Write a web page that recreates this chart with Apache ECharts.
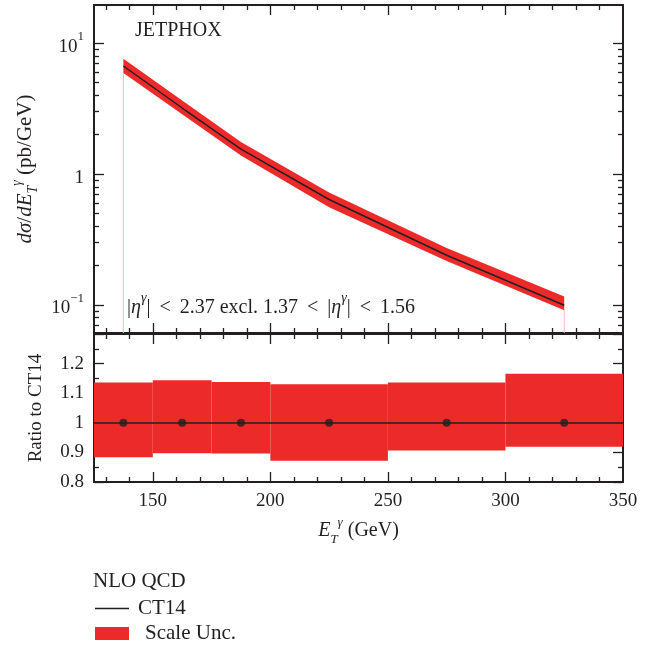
<!DOCTYPE html>
<html><head><meta charset="utf-8">
<script src="https://cdn.jsdelivr.net/npm/echarts@6/dist/echarts.min.js"></script>
<style>html,body{margin:0;padding:0;background:#fff}#c{width:664px;height:648px}</style>
</head><body><div id="c"></div>
<script>
// ---- data ----
const etCenters = [137.5, 162.5, 187.5, 225, 275, 325];
const xsecCentral = [6.7, 3.2, 1.55, 0.64, 0.24, 0.0995];
const xsecUpper = [7.62, 3.66, 1.76, 0.723, 0.273, 0.116];
const xsecLower = [5.92, 2.87, 1.39, 0.559, 0.217, 0.0912];
const binLow = [125, 150, 175, 200, 250, 300];
const binHigh = [150, 175, 200, 250, 300, 350];
const ratioUpper = [1.136, 1.144, 1.138, 1.130, 1.136, 1.166];
const ratioLower = [0.884, 0.897, 0.896, 0.872, 0.906, 0.919];
const ratioCentral = [1, 1, 1, 1, 1, 1];
const xTickLabels = [150, 200, 250, 300, 350];
const xMajorTicks = [150, 200, 250, 300];
const xMinorTicks = [130, 140, 160, 170, 180, 190, 210, 220, 230, 240, 260, 270, 280, 290, 310, 320, 330, 340];
const yLogMajor = [0.1, 1, 10];
const yLogMinor = [0.07, 0.08, 0.09, 0.2, 0.3, 0.4, 0.5, 0.6, 0.7, 0.8, 0.9, 2, 3, 4, 5, 6, 7, 8, 9];
const X_MIN = 125, X_MAX = 350;
const Y_LOG_MIN = 0.0611, Y_LOG_MAX = 19.6;
const R_MIN = 0.8, R_MAX = 1.3, R_STEP = 0.1;

// ---- style ----
const ink = '#231f20';
const RED = '#ec2a2a';
const PINK = '#f6b9b9';
const FF = '"Liberation Serif","DejaVu Serif",serif';

const chart = echarts.init(document.getElementById('c'), null, {renderer: 'canvas'});

function xAx(grid, pos, ticks, len, line, labels, extra) {
  return Object.assign({
    type: 'value', gridIndex: grid, position: pos, min: X_MIN, max: X_MAX,
    axisLine: {show: line, lineStyle: {color: ink, width: 2}},
    axisTick: {show: true, inside: true, length: len, customValues: ticks, lineStyle: {color: ink, width: 1.3}},
    axisLabel: labels ? {show: true, customValues: labels, margin: 10, fontSize: 19, fontFamily: FF, color: ink} : {show: false},
    splitLine: {show: false}
  }, extra || {});
}
function yLog(pos, ticks, len, line, labels, extra) {
  return Object.assign({
    type: 'log', gridIndex: 0, position: pos, min: Y_LOG_MIN, max: Y_LOG_MAX, logBase: 10,
    axisLine: {show: line, lineStyle: {color: ink, width: 2}},
    axisTick: {show: true, inside: true, length: len, customValues: ticks, lineStyle: {color: ink, width: 1.3}},
    axisLabel: labels ? {
      show: true, customValues: labels, margin: 10,
      formatter: v => {
        if (Math.abs(v - 1) < 1e-9) return '{b|1}';
        const e = Math.round(Math.log10(v));
        return '{b|10}{s|' + (e < 0 ? '\u2212' : '') + Math.abs(e) + '}';
      },
      rich: {
        b: {fontSize: 19, fontFamily: FF, color: ink, lineHeight: 26, verticalAlign: 'bottom'},
        s: {fontSize: 13, fontFamily: FF, color: ink, lineHeight: 13, verticalAlign: 'top'}
      }
    } : {show: false},
    splitLine: {show: false}
  }, extra || {});
}
function yRatio(pos, labels, extra) {
  return Object.assign({
    type: 'value', gridIndex: 1, position: pos, min: R_MIN, max: R_MAX, interval: R_STEP,
    axisLine: {show: true, lineStyle: {color: ink, width: 2}},
    axisTick: {show: true, inside: true, length: 10, lineStyle: {color: ink, width: 1.3}},
    minorTick: {show: true, splitNumber: 2, length: 5, lineStyle: {color: ink, width: 1.3}},
    axisLabel: labels ? {
      show: true, margin: 10, fontSize: 19, fontFamily: FF, color: ink,
      formatter: v => (Math.abs(v - R_MAX) < 1e-6 ? '' : (Math.abs(v - 1) < 1e-6 ? '1' : v.toFixed(1)))
    } : {show: false},
    splitLine: {show: false}
  }, extra || {});
}

function mkRich(fs, ss) {
  return {
    i: {fontSize: fs, fontFamily: FF, color: ink, fontStyle: 'italic', lineHeight: 30},
    n: {fontSize: fs, fontFamily: FF, color: ink, lineHeight: 30},
    sub: {fontSize: ss, fontFamily: FF, color: ink, fontStyle: 'italic', lineHeight: 14, verticalAlign: 'bottom'},
    sup: {fontSize: ss, fontFamily: FF, color: ink, fontStyle: 'italic', lineHeight: 14, verticalAlign: 'top'}
  };
}

const option = {
  animation: false,
  backgroundColor: '#fff',
  grid: [
    {left: 94, right: 41, top: 5, height: 328},
    {left: 94, right: 41, top: 334, height: 148}
  ],
  xAxis: [
    xAx(0, 'bottom', xMajorTicks, 10, true, null),
    xAx(0, 'bottom', xMinorTicks, 5, false, null),
    xAx(0, 'top', xMajorTicks, 10, true, null),
    xAx(0, 'top', xMinorTicks, 5, false, null),
    xAx(1, 'bottom', xMajorTicks, 10, true, xTickLabels, {
      name: '{i|E}{sub|T}{sup|\u03b3}{n| (GeV)}', nameLocation: 'middle', nameGap: 34,
      nameTextStyle: {rich: mkRich(20, 13)}
    }),
    xAx(1, 'bottom', xMinorTicks, 5, false, null),
    xAx(1, 'top', xMajorTicks, 10, true, null),
    xAx(1, 'top', xMinorTicks, 5, false, null)
  ],
  yAxis: [
    yLog('left', yLogMajor, 10, true, yLogMajor, {
      name: '{i|d\u03c3}{n|/}{i|dE}{sub|T}{sup|\u03b3}{n| (pb/GeV)}', nameLocation: 'middle', nameGap: 48, nameRotate: 90,
      nameTextStyle: {rich: mkRich(21, 14)}
    }),
    yLog('left', yLogMinor, 5, false, null),
    yLog('right', yLogMajor, 10, true, null),
    yLog('right', yLogMinor, 5, false, null),
    yRatio('left', true, {
      name: 'Ratio to CT14', nameLocation: 'middle', nameGap: 48, nameRotate: 90,
      nameTextStyle: {fontSize: 19, fontFamily: FF, color: ink}
    }),
    yRatio('right', false)
  ],
  legend: {
    orient: 'vertical', left: 95, top: 598, padding: 0, itemWidth: 34, itemHeight: 13, itemGap: 4,
    data: [
      {name: 'CT14', icon: 'path://M0,0L40,0L40,1.6L0,1.6Z', itemStyle: {color: ink}},
      {name: 'Scale Unc.', icon: 'rect'}
    ],
    formatter: n => (n === 'CT14' ? '{a|CT14}' : '{b|Scale Unc.}'),
    textStyle: {
      fontSize: 21, fontFamily: FF, color: ink,
      rich: {
        a: {fontSize: 21, fontFamily: FF, color: ink, lineHeight: 21, padding: [0, 0, 0, 4]},
        b: {fontSize: 21, fontFamily: FF, color: ink, lineHeight: 21, padding: [0, 0, 0, 11]}
      }
    }
  },
  graphic: [
    {type: 'text', left: 135, top: 21, style: {text: 'JETPHOX', font: '20px ' + FF, fill: ink}},
    {type: 'text', left: 93, top: 571, style: {text: 'NLO QCD', font: '21px ' + FF, fill: ink}},
    {type: 'text', left: 127, top: 291, style: {
      text: '{n||}{i|\u03b7}{s|\u03b3}{n||}{r|<}{n|2.37 excl. 1.37}{r|<}{n||}{i|\u03b7}{s|\u03b3}{n||}{r|<}{n|1.56}',
      rich: {
        n: {fontSize: 20, fontFamily: FF, fill: ink, lineHeight: 27, verticalAlign: 'bottom'},
        r: {fontSize: 20, fontFamily: FF, fill: ink, lineHeight: 27, verticalAlign: 'bottom', padding: [0, 9, 0, 9]},
        i: {fontSize: 20, fontFamily: FF, fill: ink, fontStyle: 'italic', lineHeight: 27, verticalAlign: 'bottom'},
        s: {fontSize: 14, fontFamily: FF, fill: ink, fontStyle: 'italic', lineHeight: 14, verticalAlign: 'top'}
      }
    }}
  ],
  series: [
    {
      type: 'custom', name: 'Scale Unc.', xAxisIndex: 0, yAxisIndex: 0, z: 2,
      itemStyle: {color: RED},
      data: etCenters.map((x, i) => [x, xsecUpper[i], xsecLower[i]]),
      encode: {x: 0, y: [1, 2]},
      renderItem: (params, api) => {
        if (params.dataIndex !== 0) return null;
        const pts = [];
        for (let i = 0; i < etCenters.length; i++) pts.push(api.coord([etCenters[i], xsecUpper[i]]));
        for (let i = etCenters.length - 1; i >= 0; i--) pts.push(api.coord([etCenters[i], xsecLower[i]]));
        return {type: 'polygon', shape: {points: pts}, style: {fill: RED}};
      }
    },
    {
      type: 'line', name: 'edgeL', xAxisIndex: 0, yAxisIndex: 0, z: 1, symbol: 'none', silent: true,
      lineStyle: {color: PINK, width: 1},
      data: [[etCenters[0], xsecLower[0]], [etCenters[0], Y_LOG_MIN]]
    },
    {
      type: 'line', name: 'edgeR', xAxisIndex: 0, yAxisIndex: 0, z: 1, symbol: 'none', silent: true,
      lineStyle: {color: PINK, width: 1},
      data: [[etCenters[5], xsecLower[5]], [etCenters[5], Y_LOG_MIN]]
    },
    {
      type: 'line', name: 'CT14', xAxisIndex: 0, yAxisIndex: 0, z: 3, symbol: 'none',
      itemStyle: {color: ink}, lineStyle: {color: ink, width: 1.5},
      data: etCenters.map((x, i) => [x, xsecCentral[i]])
    },
    {
      type: 'custom', name: 'Scale Unc.', xAxisIndex: 4, yAxisIndex: 4, z: 2,
      itemStyle: {color: RED},
      data: binLow.map((lo, i) => [lo, binHigh[i], ratioUpper[i], ratioLower[i]]),
      encode: {x: [0, 1], y: [2, 3]},
      renderItem: (params, api) => {
        const p1 = api.coord([api.value(0), api.value(2)]);
        const p2 = api.coord([api.value(1), api.value(3)]);
        return {type: 'rect', shape: {x: p1[0], y: p1[1], width: p2[0] - p1[0], height: p2[1] - p1[1]}, style: {fill: RED}};
      }
    },
    {
      type: 'scatter', name: 'ratioPts', xAxisIndex: 4, yAxisIndex: 4, z: 4,
      symbol: 'circle', symbolSize: 8, itemStyle: {color: ink},
      data: etCenters.map((x, i) => [x, ratioCentral[i]]),
      markLine: {
        silent: true, symbol: ['none', 'none'], label: {show: false},
        lineStyle: {color: ink, width: 1.5, type: 'solid'},
        data: [{yAxis: 1}]
      }
    }
  ]
};
chart.setOption(option);
</script></body></html>
